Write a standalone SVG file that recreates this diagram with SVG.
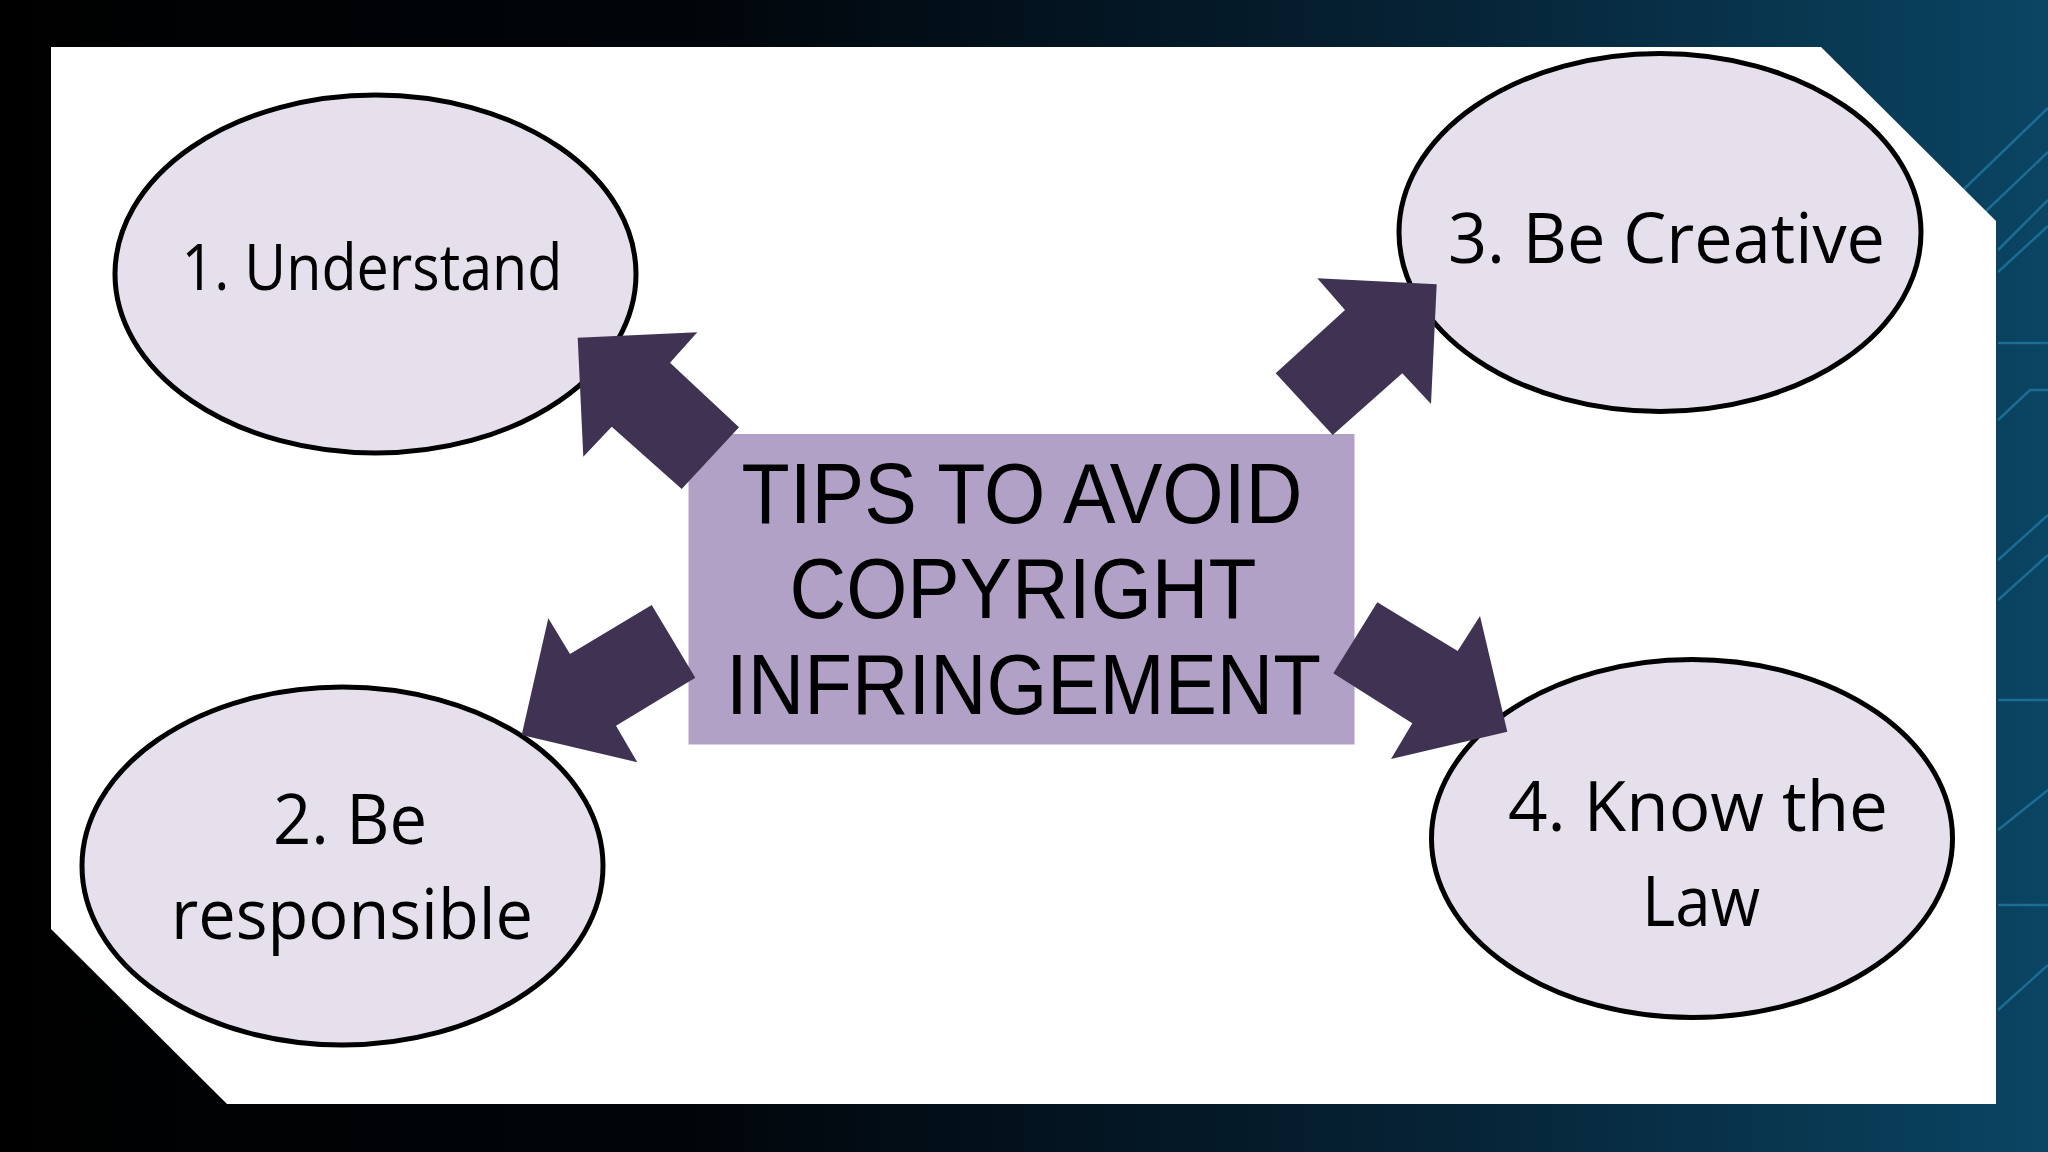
<svg xmlns="http://www.w3.org/2000/svg" width="2048" height="1152" viewBox="0 0 2048 1152">
  <defs>
    <linearGradient id="bg" x1="0" y1="0" x2="1" y2="0">
      <stop offset="0" stop-color="#000000"/>
      <stop offset="0.35" stop-color="#01060b"/>
      <stop offset="0.7" stop-color="#062235"/>
      <stop offset="1" stop-color="#0a4563"/>
    </linearGradient>
    <style>
      .ell { fill: #e6e0ec; stroke: #000000; stroke-width: 5; }
      .arrow { fill: #3f3252; }
      .lbl { font-family: "Open Sans", "Noto Sans", sans-serif; fill: #000000; text-anchor: middle; }
      .title { font-family: "Liberation Sans", Arial, sans-serif; font-size: 86px; fill: #000000; text-anchor: middle; }
      .circ { stroke: #2c8ec0; stroke-width: 2.5; fill: none; opacity: 0.55; }
    </style>
  </defs>

  <!-- background -->
  <rect x="0" y="0" width="2048" height="1152" fill="url(#bg)"/>
  <g id="circuit">
    <path class="circ" d="M1963 190 L2048 108"/>
    <path class="circ" d="M1983 214 L2048 152"/>
    <path class="circ" d="M1998 250 L2048 200"/>
    <path class="circ" d="M1998 272 L2048 226"/>
    <path class="circ" d="M1998 343 L2048 343"/>
    <path class="circ" d="M1998 420 L2030 390 L2048 390"/>
    <path class="circ" d="M1998 560 L2048 515"/>
    <path class="circ" d="M1998 600 L2048 555"/>
    <path class="circ" d="M1998 700 L2048 700"/>
    <path class="circ" d="M1998 830 L2048 790"/>
    <path class="circ" d="M1998 905 L2048 905"/>
    <path class="circ" d="M1998 1010 L2048 965"/>
  </g>

  <!-- white panel -->
  <polygon id="panel" points="51,47 1821,47 1996,221 1996,1104 227,1104 51,929" fill="#ffffff"/>

  <g id="node1">
    <ellipse class="ell" cx="375.5" cy="274" rx="260.5" ry="179"/>
    <text class="lbl" x="372" y="290" font-size="64" textLength="381" lengthAdjust="spacingAndGlyphs">1. Understand</text>
  </g>
  <g id="node3">
    <ellipse class="ell" cx="1660" cy="232.5" rx="261" ry="179"/>
    <text class="lbl" x="1666.5" y="263" font-size="70" textLength="437" lengthAdjust="spacingAndGlyphs">3. Be Creative</text>
  </g>
  <g id="node2">
    <ellipse class="ell" cx="342.5" cy="866" rx="260.5" ry="179"/>
    <text class="lbl" x="350" y="844" font-size="70" textLength="154" lengthAdjust="spacingAndGlyphs">2. Be</text>
    <text class="lbl" x="352" y="939" font-size="70" textLength="362" lengthAdjust="spacingAndGlyphs">responsible</text>
  </g>
  <g id="node4">
    <ellipse class="ell" cx="1692" cy="838.5" rx="260.5" ry="179"/>
    <text class="lbl" x="1698" y="831" font-size="70" textLength="380" lengthAdjust="spacingAndGlyphs">4. Know the</text>
    <text class="lbl" x="1701" y="926" font-size="70" textLength="118" lengthAdjust="spacingAndGlyphs">Law</text>
  </g>

  <g id="center">
    <rect x="688.5" y="434" width="666" height="310.5" fill="#b1a1c7"/>
    <text class="title" x="1022" y="523" textLength="561" lengthAdjust="spacingAndGlyphs">TIPS TO AVOID</text>
    <text class="title" x="1023" y="618" textLength="467" lengthAdjust="spacingAndGlyphs">COPYRIGHT</text>
    <text class="title" x="1023.5" y="714" textLength="595" lengthAdjust="spacingAndGlyphs">INFRINGEMENT</text>
  </g>

  <g id="connectors">
    <polygon class="arrow" points="577.7,337.7 697.3,332.3 670,362.7 739,427.3 681.7,489 611.7,426.7 583.3,456.7"/>
    <polygon class="arrow" points="1317.3,278.3 1436.7,284.3 1431,404 1402.3,373.3 1332.7,435 1275.7,373.3 1345,310"/>
    <polygon class="arrow" points="548.3,618.3 570,654 651.7,605 695.3,677.7 616,725.7 637.3,762.3 521.7,735"/>
    <polygon class="arrow" points="1377.3,602.3 1457.7,651 1480,616 1507.3,731.7 1391,759 1412.3,723.3 1333.3,673.3"/>
  </g>
</svg>
